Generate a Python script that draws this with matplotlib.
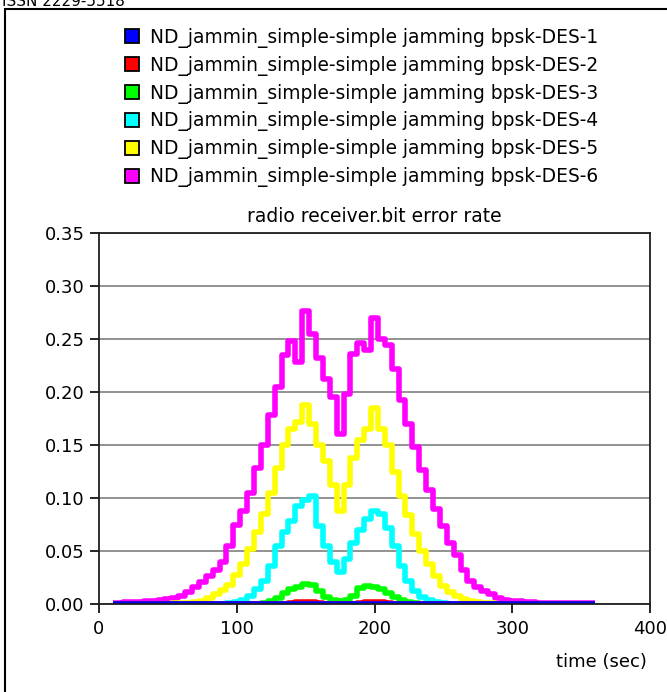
import numpy as np
import matplotlib.pyplot as plt
from matplotlib.lines import Line2D
from matplotlib.patches import Rectangle

# sample times (sec)
time = np.arange(10, 361, 5)

# bit error rate per run
des1 = [0.0] * 71
des2 = ([0.0] * 20
        + [0, 0, 0, 0, 0, 0, 0.001, 0.002, 0.002, 0.002]
        + [0.001, 0, 0, 0, 0, 0, 0.001, 0.002, 0.002, 0.002]
        + [0.001] + [0.0] * 30)
des3 = ([0.0] * 20
        + [0, 0, 0.001, 0.003, 0.006, 0.010, 0.014, 0.016, 0.019, 0.018]
        + [0.012, 0.007, 0.004, 0.003, 0.004, 0.008, 0.015, 0.017, 0.016, 0.014]
        + [0.010, 0.007, 0.004, 0.002, 0.001, 0, 0, 0, 0, 0]
        + [0.0] * 21)
des4 = ([0.0] * 10
        + [0, 0, 0, 0, 0, 0, 0, 0.001, 0.002, 0.004]
        + [0.008, 0.014, 0.022, 0.036, 0.055, 0.068, 0.078, 0.092, 0.098, 0.102]
        + [0.074, 0.055, 0.040, 0.030, 0.042, 0.058, 0.070, 0.080, 0.088, 0.085]
        + [0.072, 0.055, 0.036, 0.022, 0.012, 0.007, 0.004, 0.002, 0.001, 0]
        + [0.0] * 21)
des5 = ([0, 0, 0, 0, 0, 0, 0, 0, 0, 0.001]
        + [0.001, 0.001, 0.002, 0.003, 0.006, 0.009, 0.013, 0.018, 0.027, 0.038]
        + [0.052, 0.068, 0.085, 0.105, 0.128, 0.150, 0.165, 0.172, 0.188, 0.170]
        + [0.150, 0.135, 0.112, 0.088, 0.112, 0.138, 0.155, 0.165, 0.185, 0.165]
        + [0.150, 0.125, 0.102, 0.084, 0.066, 0.050, 0.038, 0.026, 0.017, 0.011]
        + [0.008, 0.005, 0.003, 0.002, 0.001, 0.001, 0, 0, 0, 0]
        + [0.0] * 11)
des6 = ([0.001, 0.001, 0.002, 0.002, 0.002, 0.003, 0.003, 0.004, 0.005, 0.006]
        + [0.008, 0.011, 0.016, 0.021, 0.026, 0.032, 0.040, 0.055, 0.075, 0.088]
        + [0.105, 0.128, 0.150, 0.178, 0.205, 0.235, 0.248, 0.228, 0.276, 0.255]
        + [0.232, 0.212, 0.195, 0.160, 0.198, 0.236, 0.246, 0.240, 0.270, 0.250]
        + [0.244, 0.222, 0.192, 0.170, 0.148, 0.126, 0.108, 0.090, 0.074, 0.058]
        + [0.046, 0.032, 0.022, 0.016, 0.012, 0.009, 0.006, 0.004, 0.003, 0.003]
        + [0.002, 0.002, 0.001, 0.001, 0.001, 0.001, 0.001, 0.001, 0.001, 0.001]
        + [0.001])

series = [des1, des2, des3, des4, des5, des6]
labels = ['ND_jammin_simple-simple jamming bpsk-DES-%d' % i for i in range(1, 7)]
colors = ['#0000ff', '#ff0000', '#00ff00', '#00ffff', '#ffff00', '#ff00ff']
yticks = [0.0, 0.05, 0.10, 0.15, 0.20, 0.25, 0.30, 0.35]
xticks = [0, 100, 200, 300, 400]


def main():
    plt.rcParams['font.family'] = ['DejaVu Sans']
    fig = plt.figure(figsize=(6.67, 6.92), dpi=100)
    ax = fig.add_axes([99 / 667, 88 / 692, 551 / 667, 371 / 692])

    # blue last so it lies on top
    for vals, col in reversed(list(zip(series, colors))):
        ax.plot(time, vals, color=col, lw=4, drawstyle='steps-mid',
                solid_capstyle='butt')

    ax.set_xlim(0, 400)
    ax.set_ylim(0, 0.35)
    ax.set_xticks(xticks)
    ax.set_yticks(yticks)
    ax.set_yticklabels(['%.2f' % v for v in yticks])
    ax.tick_params(direction='out', length=6.5, width=1.2, labelsize=13,
                   colors='black')
    ax.tick_params(axis='y', pad=4)
    ax.tick_params(axis='x', pad=5)
    ax.yaxis.grid(True, color='#808080', lw=1.2)
    ax.set_axisbelow(True)
    for sp in ax.spines.values():
        sp.set_linewidth(1.3)
        sp.set_color('#202020')

    ax.set_title('radio receiver.bit error rate', fontsize=13.5, pad=8)
    ax.set_xlabel('time (sec)', fontsize=13, ha='right', va='center')
    ax.xaxis.set_label_coords((647 - 99) / 551, (604 - 662) / 371)

    handles = [Line2D([], [], ls='none', marker='s', markersize=10,
                      markerfacecolor=c, markeredgecolor='black',
                      markeredgewidth=1.3) for c in colors]
    fig.legend(handles, labels, loc='upper left',
               bbox_to_anchor=(123 / 667, 1 - 28 / 692), frameon=False,
               fontsize=13.4, handlelength=1.0, handletextpad=0.45,
               labelspacing=0.42, borderpad=0, borderaxespad=0)

    # page frame and cut-off journal header
    fig.patches.append(Rectangle((5 / 667, -0.1), 1.0, 1.1 - 9 / 692,
                                 transform=fig.transFigure, fill=False,
                                 ec='black', lw=1.5))
    fig.text(2 / 667, 1 - 6 / 692, 'ISSN 2229-5518', fontsize=11,
             va='baseline', ha='left')

    fig.savefig('out.png', dpi=100)


if __name__ == "__main__":
    main()
